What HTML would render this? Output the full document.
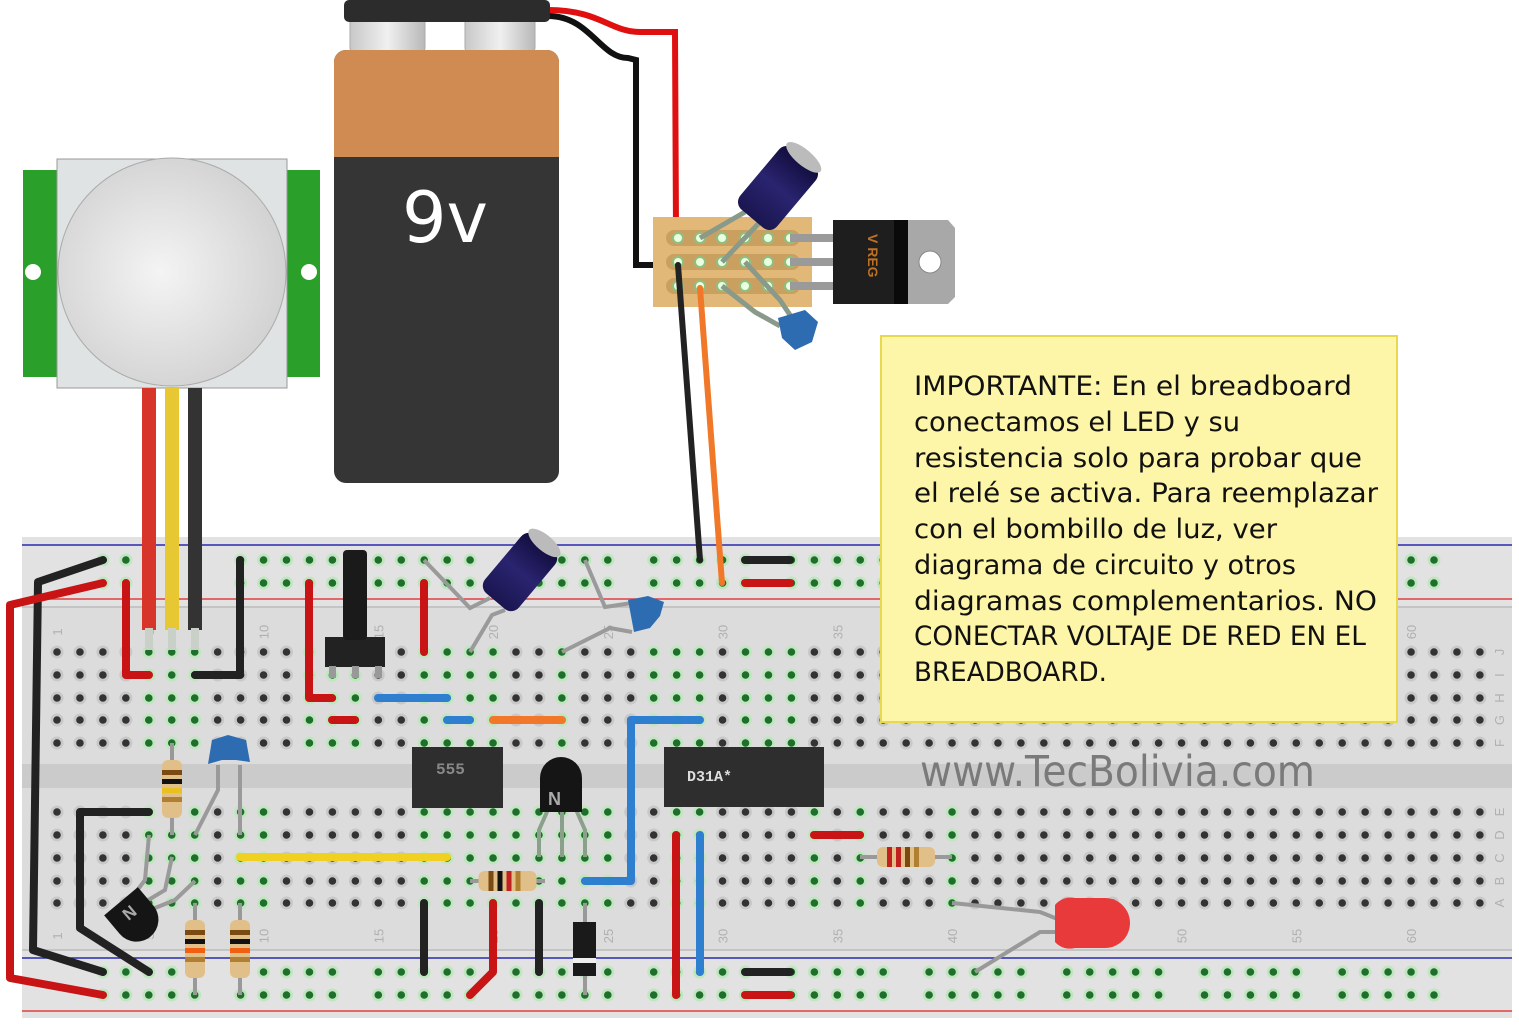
<!DOCTYPE html>
<html><head><meta charset="utf-8"><style>
html,body{margin:0;padding:0;background:#fff;width:1519px;height:1025px;overflow:hidden}
svg{display:block}
</style></head><body>
<svg id="s" width="1519" height="1025" viewBox="0 0 1519 1025" xmlns="http://www.w3.org/2000/svg" font-family="Liberation Sans, sans-serif">
<defs>
<radialGradient id="dome" cx="0.45" cy="0.5" r="0.6"><stop offset="0" stop-color="#f4f4f4"/><stop offset="1" stop-color="#cfcfcf"/></radialGradient>
<linearGradient id="cap" x1="0" x2="1"><stop offset="0" stop-color="#1a1650"/><stop offset="0.5" stop-color="#2a2470"/><stop offset="1" stop-color="#100c3a"/></linearGradient>
<linearGradient id="term" x1="0" x2="1"><stop offset="0" stop-color="#c8c8c8"/><stop offset="0.5" stop-color="#f0f0f0"/><stop offset="1" stop-color="#b8b8b8"/></linearGradient>
</defs>
<!-- breadboard -->
<g id="bb">
<rect x="22" y="537" width="1490" height="481" fill="#dcdcdc"/>
<rect x="22" y="537" width="1490" height="70" fill="#e2e2e2"/>
<rect x="22" y="950" width="1490" height="68" fill="#e2e2e2"/>
<line x1="22" y1="545" x2="1512" y2="545" stroke="#2a2ab0" stroke-width="1.5"/>
<line x1="22" y1="599" x2="1512" y2="599" stroke="#e04040" stroke-width="1.5"/>
<line x1="22" y1="958" x2="1512" y2="958" stroke="#2a2ab0" stroke-width="1.5"/>
<line x1="22" y1="1011" x2="1512" y2="1011" stroke="#e04040" stroke-width="1.5"/>
<line x1="22" y1="607" x2="1512" y2="607" stroke="#c4c4c4" stroke-width="2"/>
<line x1="22" y1="950" x2="1512" y2="950" stroke="#c4c4c4" stroke-width="2"/>
<rect x="22" y="764" width="1490" height="24" fill="#cbcbcb"/>
</g>
<g id="holes"></g>
<g id="labels" font-size="13" fill="#b0b0b0"></g>
<text x="920" y="786" font-size="43" fill="#7a7a7a" textLength="395" lengthAdjust="spacingAndGlyphs" font-family="DejaVu Sans, sans-serif">www.TecBolivia.com</text>

<!-- battery wires -->
<path d="M548 10 C600 10 610 32 640 32 L675 32 L676 230" fill="none" stroke="#e01010" stroke-width="6"/>
<path d="M548 16 C590 16 600 58 628 58 L636 60 L636 265 L668 265" fill="none" stroke="#111" stroke-width="6"/>
<!-- battery -->
<rect x="350" y="18" width="75" height="34" rx="4" fill="url(#term)" stroke="#aaa"/>
<rect x="465" y="18" width="70" height="34" rx="4" fill="url(#term)" stroke="#aaa"/>
<rect x="344" y="0" width="206" height="22" rx="5" fill="#2c2c2c"/>
<rect x="334" y="50" width="225" height="433" rx="12" fill="#353535"/>
<path d="M346 50 H547 A12 12 0 0 1 559 62 V157 H334 V62 A12 12 0 0 1 346 50Z" fill="#cf8b51"/>
<text x="445" y="242" font-size="70" fill="#fff" text-anchor="middle" font-family="DejaVu Sans, sans-serif">9v</text>
<!-- PIR -->
<rect x="23" y="170" width="297" height="207" fill="#2aa02a"/>
<rect x="57" y="159" width="230" height="229" fill="#dfe3e3" stroke="#999" stroke-width="1"/>
<ellipse cx="172" cy="272" rx="114" ry="114" fill="url(#dome)" stroke="#aaa"/>
<circle cx="33" cy="272" r="8" fill="#fff"/><circle cx="309" cy="272" r="8" fill="#fff"/>
<rect x="142" y="388" width="14" height="242" fill="#d8352a"/>
<rect x="165" y="388" width="14" height="242" fill="#e8c832"/>
<rect x="188" y="388" width="14" height="242" fill="#333"/>
<g fill="#c8d0c8"><rect x="145" y="628" width="8" height="22"/><rect x="168" y="628" width="8" height="22"/><rect x="191" y="628" width="8" height="22"/></g>
<!-- stripboard -->
<rect x="653" y="217" width="159" height="90" fill="#e2b878"/>
<g fill="#c9a060"><rect x="666" y="230" width="134" height="16" rx="8"/><rect x="666" y="254" width="134" height="16" rx="8"/><rect x="666" y="278" width="134" height="16" rx="8"/></g>
<g id="sbh" fill="#e8ffe0" stroke="#8fbf80" stroke-width="2"></g>
<g stroke="#9a9a9a" stroke-width="8"><line x1="790" y1="238" x2="836" y2="238"/><line x1="790" y1="262" x2="836" y2="262"/><line x1="790" y1="286" x2="836" y2="286"/></g>
<rect x="833" y="220" width="76" height="84" fill="#1e1e1e"/>
<rect x="894" y="220" width="14" height="84" fill="#0a0a0a"/>
<path d="M908 220 H948 L955 228 V297 L948 304 H908Z" fill="#a8a8a8"/>
<circle cx="930" cy="262" r="11" fill="#fff" stroke="#888"/>
<text x="0" y="0" transform="translate(868,234) rotate(90)" font-size="14" font-weight="bold" fill="#c07020">V REG</text>
<line x1="678" y1="265" x2="700" y2="560" stroke="#222" stroke-width="6" stroke-linecap="round"/>
<line x1="700" y1="288" x2="722" y2="583" stroke="#f07828" stroke-width="6" stroke-linecap="round"/>
<g stroke="#8a9a8a" stroke-width="5" fill="none"><path d="M700 238 L745 212"/><path d="M722 262 L760 222"/><path d="M745 262 L780 300 L792 318"/><path d="M722 286 L755 312 L780 326"/></g>
<g transform="translate(778,188) rotate(-50)"><rect x="-40" y="-24" width="80" height="48" rx="10" fill="url(#cap)"/><ellipse cx="40" cy="0" rx="8" ry="22" fill="#bbb"/></g>
<path d="M778 318 L805 310 L818 322 L812 342 L795 350 L782 338Z" fill="#2d6cb0"/>
<!-- wires on board -->
<g fill="none" stroke-linecap="round" stroke-linejoin="round" stroke-width="8">
<g stroke="#222">
<path d="M103 560 L38 582 L33 950 L103 972"/>
<path d="M240 560 L240 675 L195 675"/>
<path d="M745 560 L790 560"/><path d="M745 972 L790 972"/>
<path d="M424 903 L424 972"/><path d="M539 903 L539 972"/>
<path d="M149 812 L80 812 L80 928 L149 972"/>
</g>
<g stroke="#c81414">
<path d="M103 583 L10 605 L10 978 L103 995"/>
<path d="M126 583 L126 675 L149 675"/>
<path d="M309 583 L309 698 L332 698"/>
<path d="M424 583 L424 652"/>
<path d="M332 720 L355 720"/>
<path d="M745 583 L790 583"/><path d="M745 995 L790 995"/>
<path d="M676 835 L676 995"/>
<path d="M814 835 L860 835"/>
<path d="M493 903 L493 972 L470 995"/>
</g>
<g stroke="#2f7fd0">
<path d="M378 698 L447 698"/><path d="M447 720 L470 720"/>
<path d="M700 720 L631 720 L631 881 L585 881"/>
<path d="M700 835 L700 972"/>
</g>
<path d="M493 720 L562 720" stroke="#f07828"/>
<path d="M240 857 L447 857" stroke="#f0d020"/>
</g>
<!-- pot -->
<rect x="325" y="637" width="60" height="30" fill="#222"/>
<rect x="343" y="550" width="24" height="90" rx="4" fill="#1a1a1a"/>
<g fill="#999"><rect x="329" y="666" width="7" height="12"/><rect x="352" y="666" width="7" height="12"/><rect x="375" y="666" width="7" height="12"/></g>
<!-- electrolytic on board -->
<g stroke="#9a9a9a" stroke-width="4" fill="none"><path d="M424 560 L470 608 L490 598"/><path d="M470 652 L492 615 L505 610"/><path d="M585 560 L605 607 L632 603"/><path d="M562 652 L610 628 L632 632"/></g>
<g transform="translate(520,572) rotate(-50)"><rect x="-38" y="-22" width="76" height="44" rx="10" fill="url(#cap)"/><ellipse cx="38" cy="0" rx="8" ry="20" fill="#bbb"/></g>
<path d="M628 600 L648 596 L664 602 L660 616 L650 628 L634 632Z" fill="#2d6cb0"/>
<!-- ICs -->
<rect x="412" y="747" width="91" height="61" fill="#2e2e2e"/>
<text x="436" y="774" font-size="16" fill="#888" font-family="Liberation Mono, monospace" font-weight="bold">555</text>
<rect x="664" y="747" width="160" height="60" fill="#2e2e2e"/>
<text x="687" y="781" font-size="15" fill="#ddd" font-family="Liberation Mono, monospace" font-weight="bold">D31A*</text>
<!-- mid transistor -->
<g stroke="#8aa08a" stroke-width="4" fill="none"><path d="M550 805 L539 830 L539 857"/><path d="M562 805 L562 857"/><path d="M574 805 L585 830 L585 857"/></g>
<path d="M540 778 A21 21 0 0 1 582 778 L582 812 L540 812Z" fill="#151515"/>
<text x="548" y="805" font-size="18" font-weight="bold" fill="#aaa">N</text>
<g id="res"></g>
<!-- diode -->
<line x1="585" y1="903" x2="585" y2="995" stroke="#999" stroke-width="4"/>
<rect x="573" y="922" width="23" height="54" fill="#1a1a1a"/><rect x="573" y="958" width="23" height="5" fill="#eee"/>
<!-- left ceramic + transistor -->
<g stroke="#9a9a9a" stroke-width="4" fill="none"><path d="M218 765 L218 790 L195 835"/><path d="M240 765 L240 835"/><path d="M149 835 L145 880 L130 900"/><path d="M172 857 L165 890 L140 905"/><path d="M195 881 L175 900 L150 910"/></g>
<path d="M212 740 L228 735 L246 740 L250 762 L236 760 L222 760 L208 764Z" fill="#2d6cb0"/>
<g transform="translate(130,912) rotate(-40)"><path d="M-22 -14 H22 V10 A22 22 0 0 1 -22 10Z" fill="#151515"/><text x="-7" y="6" font-size="17" font-weight="bold" fill="#aaa">N</text></g>
<!-- LED -->
<g stroke="#999" stroke-width="4" fill="none"><path d="M952 903 L1040 912 L1060 920"/><path d="M975 972 L1040 932 L1060 932"/></g>
<path d="M1055 905 A20 20 0 0 1 1075 898 H1105 A25 25 0 0 1 1105 948 H1075 A20 20 0 0 1 1055 942Z" fill="#e83a3a"/>
<!-- note -->
<rect x="881" y="336" width="516" height="386" fill="#fdf5a8" stroke="#e8d84e" stroke-width="2"/>
<g font-family="DejaVu Sans, sans-serif" font-size="27" fill="#111">
<text x="914" y="395" textLength="438" lengthAdjust="spacingAndGlyphs">IMPORTANTE: En el breadboard</text>
<text x="914" y="431" textLength="326" lengthAdjust="spacingAndGlyphs">conectamos el LED y su</text>
<text x="914" y="467" textLength="448" lengthAdjust="spacingAndGlyphs">resistencia solo para probar que</text>
<text x="914" y="502" textLength="464" lengthAdjust="spacingAndGlyphs">el relé se activa. Para reemplazar</text>
<text x="914" y="538" textLength="363" lengthAdjust="spacingAndGlyphs">con el bombillo de luz, ver</text>
<text x="914" y="574" textLength="382" lengthAdjust="spacingAndGlyphs">diagrama de circuito y otros</text>
<text x="914" y="610" textLength="463" lengthAdjust="spacingAndGlyphs">diagramas complementarios. NO</text>
<text x="914" y="645" textLength="452" lengthAdjust="spacingAndGlyphs">CONECTAR VOLTAJE DE RED EN EL</text>
<text x="914" y="681" textLength="193" lengthAdjust="spacingAndGlyphs">BREADBOARD.</text>
</g>
</svg>
<script>
(function(){
var NS="http://www.w3.org/2000/svg";
function el(p,t,a){var e=document.createElementNS(NS,t);for(var k in a)e.setAttribute(k,a[k]);p.appendChild(e);return e;}
var H=document.getElementById('holes');
function cx(c){return 57+(c-1)*22.95;}
function hole(x,y,g){el(H,'circle',{cx:x,cy:y,r:6.5,fill:g?'#bfe6bf':'#c8c8c8'});el(H,'circle',{cx:x,cy:y,r:3.8,fill:g?'#1f6e2c':'#333'});}
var tg=[5,6,7,12,13,14,17,18,19,20,23,27,28,29,31,32,33];
var bg=[5,6,7,9,10,17,18,19,20,21,22,23,24,25,28,29,34,36,40];
var topY=[652,675,698,720,743], botY=[812,835,858,881,903];
for(var c=1;c<=63;c++){var x=cx(c);
 topY.forEach(function(y){hole(x,y,tg.indexOf(c)>=0);});
 botY.forEach(function(y){hole(x,y,bg.indexOf(c)>=0);});
 if(c>=3&&c<=61&&c%6!=2){[560,583,972,995].forEach(function(y){hole(x,y,true);});}
}
var L=document.getElementById('labels');
[1,5,10,15,20,25,30,35,40,45,50,55,60].forEach(function(n){var x=cx(n)+5;
 [632,936].forEach(function(y){var t=el(L,'text',{x:0,y:0,transform:'translate('+x+','+y+') rotate(-90)','text-anchor':'middle'});t.textContent=n;});});
var rows="JIHGFEDCBA";
topY.concat(botY).forEach(function(y,i){var t=el(L,'text',{x:0,y:0,transform:'translate(1504,'+y+') rotate(-90)','text-anchor':'middle'});t.textContent=rows[i];});
var SB=document.getElementById('sbh');
[238,262,286].forEach(function(y){[678,700,722,745,768,790].forEach(function(x){el(SB,'circle',{cx:x,cy:y,r:5});});});
var R=document.getElementById('res');
function res(x1,y1,x2,y2,bands){var g=el(R,'g',{});el(g,'line',{x1:x1,y1:y1,x2:x2,y2:y2,stroke:'#999','stroke-width':4});
 var mx=(x1+x2)/2,my=(y1+y2)/2,ang=Math.atan2(y2-y1,x2-x1)*180/Math.PI;
 var b=el(g,'g',{transform:'translate('+mx+','+my+') rotate('+ang+')'});
 el(b,'rect',{x:-29,y:-10,width:58,height:20,rx:6,fill:'#e0c088'});
 bands.forEach(function(c,i){el(b,'rect',{x:-19+i*9,y:-10,width:5,height:20,fill:c});});}
res(470,881,545,881,['#7a4a10','#111','#c02020','#b08030']);
res(860,857,952,857,['#c02020','#c02020','#7a4a10','#b08030']);
res(172,743,172,835,['#7a4a10','#111','#e8c020','#b08030']);
res(195,903,195,995,['#7a4a10','#111','#f06010','#b08030']);
res(240,903,240,995,['#7a4a10','#111','#f06010','#b08030']);
})();
</script>
</body></html>
